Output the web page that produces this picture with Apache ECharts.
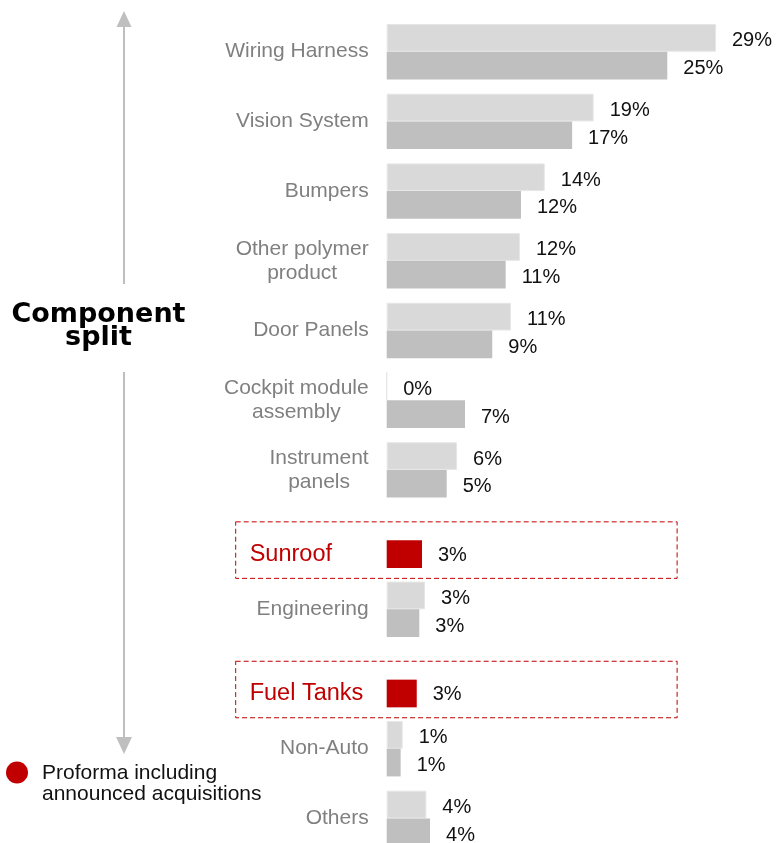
<!DOCTYPE html>
<html>
<head>
<meta charset="utf-8">
<style>
  html, body { margin: 0; padding: 0; background: #fff; }
  #chart { width: 777px; height: 843px; }
</style>
<script src="https://cdn.jsdelivr.net/npm/echarts@6/dist/echarts.min.js"></script>
</head>
<body>
<div id="chart"></div>
<script>
// ---- data ----
const categories = ['Wiring Harness', 'Vision System', 'Bumpers', 'Other polymer\nproduct', 'Door Panels',
  'Cockpit module\nassembly', 'Instrument\npanels', 'Sunroof', 'Engineering', 'Fuel Tanks', 'Non-Auto', 'Others'];
const lightValues = [29.48, 18.53, 14.15, 11.93, 11.13, 0, 6.3, null, 3.43, null, 1.43, 3.55];
const darkValues = [25.12, 16.6, 12.02, 10.65, 9.45, 7.01, 5.37, null, 2.92, null, 1.25, 3.88];
const proformaValues = [null, null, null, null, null, null, null, 3.16, null, 2.69, null, null];
const titleText = 'Component\nsplit';
const legendText = 'Proforma including\nannounced acquisitions';

const isProforma = categories.map((c, i) => proformaValues[i] != null);
const FONT = '"Liberation Sans", Arial, sans-serif';
const RED = '#C00000';

const pctLabel = (p) => Math.round(p.value) + '%';

const chart = echarts.init(document.getElementById('chart'));
const option = {
  animation: false,
  backgroundColor: '#fff',
  grid: [
    { left: 386.7, width: 335.1, top: 16.85, height: 836.4, containLabel: false, outerBoundsMode: 'none' },
    { left: 386.7, width: 335.1, top: 31.35, height: 836.4, containLabel: false, outerBoundsMode: 'none' }
  ],
  xAxis: [
    { gridIndex: 0, type: 'value', min: 0, max: 30, show: false },
    { gridIndex: 1, type: 'value', min: 0, max: 30, show: false }
  ],
  yAxis: [
    {
      gridIndex: 0, type: 'category', data: categories, inverse: true,
      axisLine: { show: false }, axisTick: { show: false }, splitLine: { show: false },
      axisLabel: {
        margin: 18, align: 'right', color: '#808080', fontSize: 21, fontFamily: FONT,
        formatter: (v, i) => isProforma[i] ? '' : v.split('\n').map(s => '{c|' + s + '}').join('\n'),
        rich: { c: { align: 'center', color: '#808080', fontSize: 21, fontFamily: FONT, lineHeight: 24 } }
      }
    },
    {
      gridIndex: 1, type: 'category', data: categories, inverse: true,
      axisLine: { show: false }, axisTick: { show: false }, splitLine: { show: false },
      axisLabel: {
        margin: 137, align: 'left', color: RED, fontSize: 23.5, fontFamily: FONT,
        formatter: (v, i) => isProforma[i] ? v : ''
      }
    }
  ],
  series: [
    {
      type: 'bar', xAxisIndex: 0, yAxisIndex: 0, data: lightValues,
      barWidth: 27.7, barGap: '0%',
      itemStyle: { color: '#D9D9D9', borderColor: '#E6E6E6', borderWidth: 1 },
      label: { show: true, position: 'right', distance: 16, offset: [0, 3], formatter: pctLabel,
        color: '#111', fontSize: 20, fontFamily: FONT }
    },
    {
      type: 'bar', xAxisIndex: 0, yAxisIndex: 0, data: darkValues,
      barWidth: 27.7, barGap: '0%',
      itemStyle: { color: '#BFBFBF' },
      label: { show: true, position: 'right', distance: 16, offset: [0, 3], formatter: pctLabel,
        color: '#111', fontSize: 20, fontFamily: FONT }
    },
    {
      type: 'bar', xAxisIndex: 1, yAxisIndex: 1, data: proformaValues,
      barWidth: 27.7,
      itemStyle: { color: RED },
      label: { show: true, position: 'right', distance: 16, offset: [0, 1], formatter: pctLabel,
        color: '#111', fontSize: 20, fontFamily: FONT }
    },
    {
      type: 'custom', xAxisIndex: 1, yAxisIndex: 1, clip: false, silent: true,
      data: categories.map((c, i) => isProforma[i] ? [0, i] : null).filter(d => d),
      renderItem: (params, api) => {
        const cat = api.value(1);
        const p0 = api.coord([0, cat]);
        const p1 = api.coord([26, cat]);
        const h = 56.5;
        return {
          type: 'rect',
          shape: { x: p0[0] - 151, y: p0[1] - h / 2 - 4, width: p1[0] - p0[0] + 151, height: h },
          style: { fill: 'none', stroke: RED, lineWidth: 1, lineDash: [5, 3] }
        };
      }
    }
  ],
  graphic: [
    { type: 'line', shape: { x1: 124, y1: 26, x2: 124, y2: 284 }, style: { stroke: '#BFBFBF', lineWidth: 2 } },
    { type: 'line', shape: { x1: 124, y1: 372, x2: 124, y2: 738 }, style: { stroke: '#BFBFBF', lineWidth: 2 } },
    { type: 'polygon', shape: { points: [[124, 11], [116.5, 27], [131.5, 27]] }, style: { fill: '#BFBFBF' } },
    { type: 'polygon', shape: { points: [[124, 754], [116, 737], [132, 737]] }, style: { fill: '#BFBFBF' } },
    {
      type: 'text', x: 98.5, y: 326,
      style: { text: titleText, align: 'center', verticalAlign: 'middle', textAlign: 'center', textVerticalAlign: 'middle',
        fontSize: 27, fontWeight: 'bold', fontFamily: '"DejaVu Sans", sans-serif', lineHeight: 23, fill: '#000' }
    },
    { type: 'circle', shape: { cx: 17, cy: 772.5, r: 11 }, style: { fill: RED } },
    {
      type: 'text', x: 42, y: 783.5,
      style: { text: legendText, align: 'left', verticalAlign: 'middle', textAlign: 'left', textVerticalAlign: 'middle',
        fontSize: 21, fontFamily: FONT, lineHeight: 21, fill: '#111' }
    }
  ]
};
chart.setOption(option);
</script>
</body>
</html>
